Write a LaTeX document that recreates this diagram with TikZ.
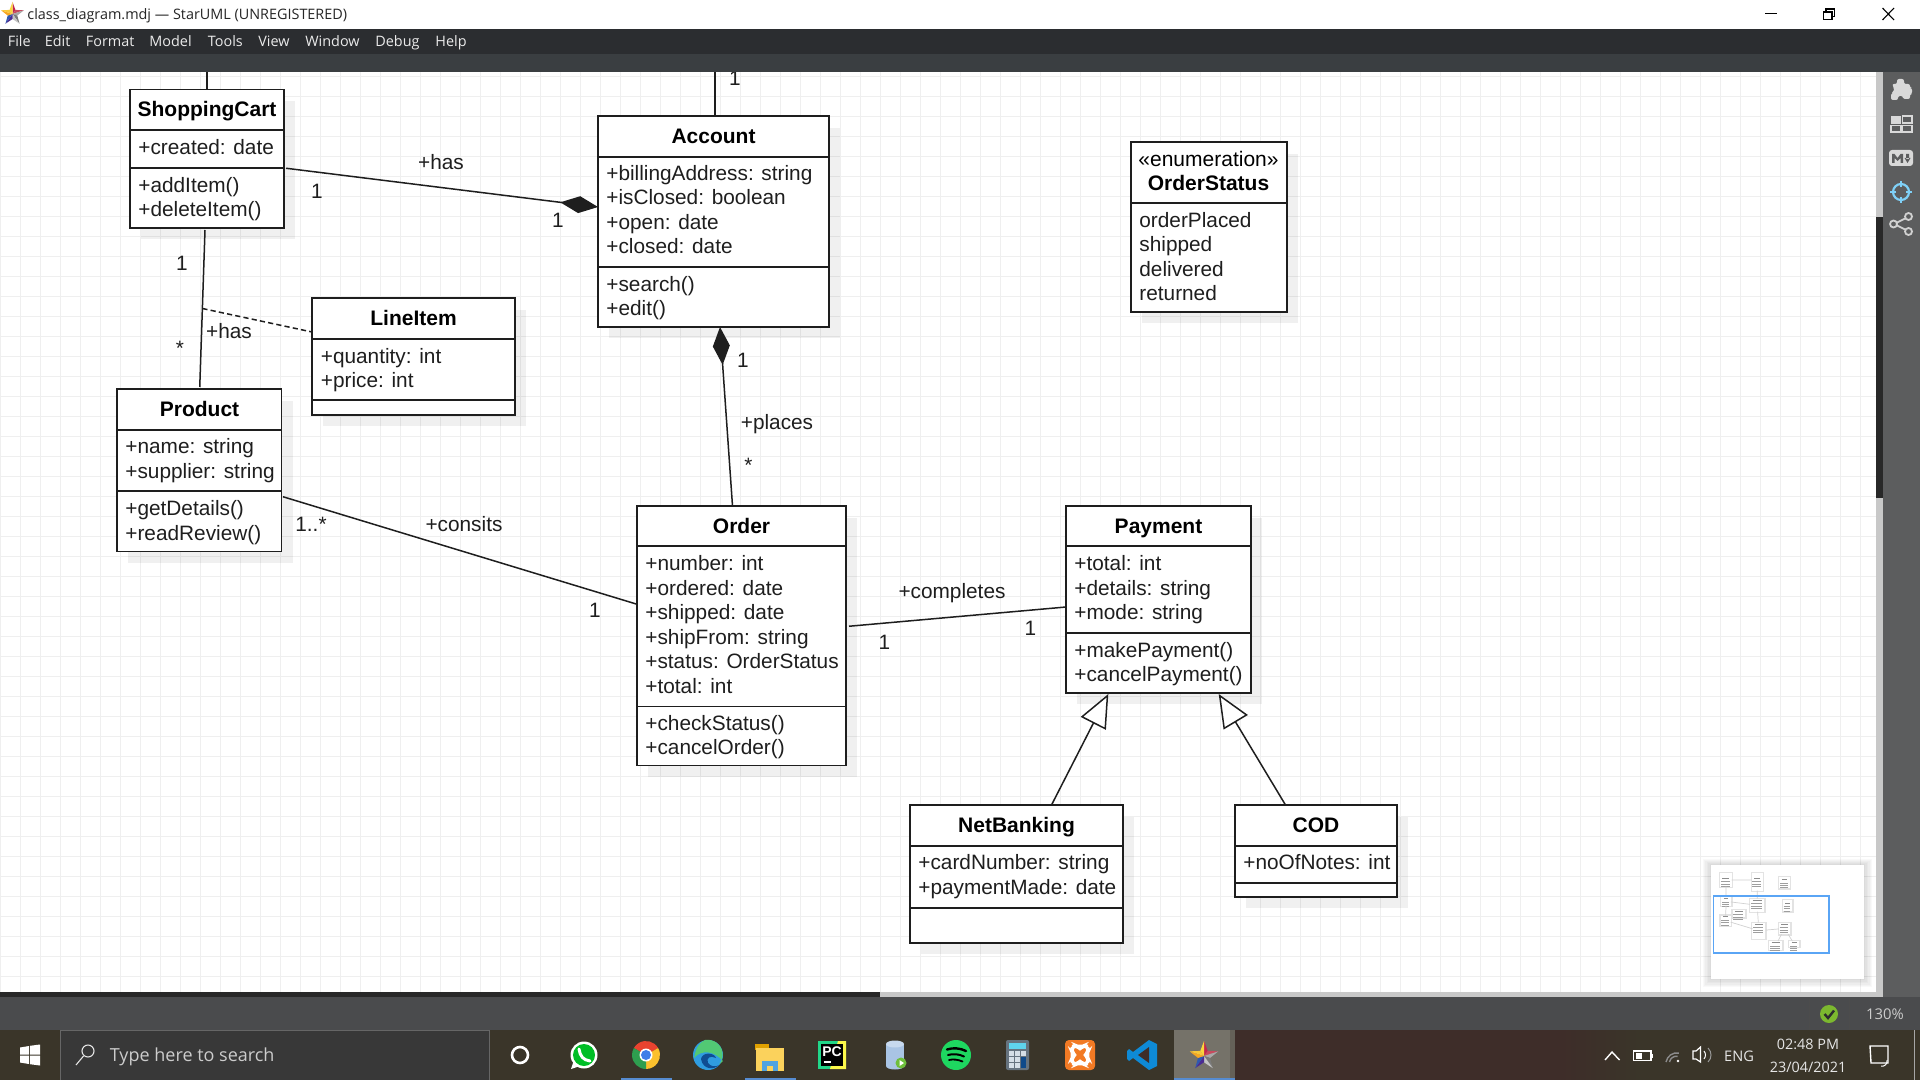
\documentclass[tikz,border=0pt]{standalone}
\usepackage{fontspec}
\setmainfont{Liberation Sans}
\newfontfamily\uifont{Open Sans}
\usetikzlibrary{arrows.meta,calc}
\definecolor{gridc}{HTML}{EFEFEF}
\definecolor{ink}{HTML}{1E1E1E}
\definecolor{menuc}{HTML}{2B2D30}
\definecolor{toolc}{HTML}{3A3E41}
\definecolor{statc}{HTML}{4A4B4D}
\definecolor{panelc}{HTML}{5C5D5E}
\definecolor{barlight}{HTML}{C8C8C8}
\definecolor{bardark}{HTML}{282828}
\definecolor{taskc}{HTML}{3A3529}
\definecolor{taskr}{HTML}{3E2D29}
\definecolor{trayt}{HTML}{E6E6E6}
\definecolor{crosshair}{HTML}{7FD0F7}
\definecolor{okgreen}{HTML}{7CB82F}
\definecolor{viewblue}{HTML}{5AA5F5}
\newcommand\dc[1]{\definecolor{c#1}{HTML}{#1}}
\dc{E8432F}\dc{FBC02D}\dc{2E9E4F}\dc{3F7EE8}\dc{2F9DE0}\dc{52C974}\dc{0F4E93}\dc{E0A100}\dc{FBD25C}\dc{4FA3E0}\dc{21D789}\dc{FCF84A}\dc{A9C4E4}\dc{C7D9EE}\dc{6EBE3C}\dc{1ED760}\dc{66737F}\dc{5FD4EE}\dc{D5DEE6}\dc{0F4A8A}\dc{F27A24}\dc{0E8AD6}
\dc{C0264F}\dc{C84A5E}\dc{A8A8A8}\dc{7A7A7A}\dc{C4C4C4}\dc{4B2C92}\dc{2F58B0}\dc{F6A623}\dc{F8C83A}\dc{FBD63C}
\tikzset{
  classbox/.style={draw=ink,fill=white,line width=.8pt,anchor=north west,inner sep=0pt,outer sep=0pt},
  classline/.style={draw=ink,line width=.8pt},
  ttl/.style={font=\fontsize{10.5}{12.25}\selectfont\bfseries,text=black,inner sep=0pt,align=center,execute at begin node=\strut},
  cmp/.style={font=\fontsize{10.4}{12.25}\selectfont,text=ink,inner sep=0pt,anchor=north west,align=left,execute at begin node=\strut},
  lab/.style={font=\fontsize{10.4}{12.25}\selectfont,text=ink,inner sep=0pt,execute at begin node=\strut},
  assoc/.style={draw=ink,line width=.75pt},
  comp/.style={assoc,-{Diamond[length=19pt,width=8.5pt]}},
  gener/.style={assoc,-{Triangle[open,length=16.5pt,width=14pt,fill=white]}},
  menu/.style={font=\uifont\fontsize{7.2}{9}\selectfont,text=white!92!black,inner sep=0pt,anchor=base west},
  tray/.style={font=\uifont\fontsize{7.2}{9}\selectfont,text=trayt,inner sep=0pt},
}
\newcommand\umlbox[7]{%
  \fill[black,fill opacity=.06] ({#2+11},{#3+12}) rectangle ({#4+11},{#5+11});
  \node[classbox,minimum width={(#4-#2)*0.5pt},minimum height={(#5-#3)*0.5pt}] (#1) at (#2,#3) {};
  \draw[classline] (#2,#6) -- (#4,#6);
  \ifx&#7&\else\draw[classline] (#2,#7) -- (#4,#7);\fi
}
\newcommand\stari[3]{%
  \begin{scope}[shift={(#1,#2)}]
  \foreach \angA/\radA/\angB/\radB/\kol in {-90/1/-54/.42/cC0264F,-54/.42/-18/1/cC84A5E,-18/1/18/.42/cA8A8A8,18/.42/54/1/c7A7A7A,54/1/90/.42/cC4C4C4,90/.42/126/1/c4B2C92,126/1/162/.42/c2F58B0,162/.42/198/1/cF6A623,198/1/234/.42/cF8C83A,234/.42/270/1/cFBD63C}{
    \fill[fill=\kol] (0,0) -- (\angA:{\radA*#3}) -- (\angB:{\radB*#3}) -- cycle;
  }
  \end{scope}}
\begin{document}
\begin{tikzpicture}[x=0.5pt,y=-0.5pt]
\useasboundingbox (0,0) rectangle (1920,1080);
\fill[white] (0,0) rectangle (1920,1080);
% grid
\foreach \gx in {0,...,94} {\draw[gridc,line width=.55pt] ({0.7+\gx*20},72) -- ({0.7+\gx*20},992);}
\foreach \gy in {0,...,45} {\draw[gridc,line width=.55pt] (0,{76.7+\gy*20}) -- (1876,{76.7+\gy*20});}
% classes
\umlbox{cart}{130}{89.5}{284}{228}{130}{168}
\umlbox{acc}{598}{116}{829}{327}{157}{267}
\umlbox{stat}{1131}{142}{1287}{312}{203}{}
\umlbox{line}{312}{298}{515}{415}{339}{400}
\umlbox{prod}{117}{389}{281.5}{551.5}{430}{491}
\umlbox{ord}{637}{506}{846}{765.5}{546}{706.5}
\umlbox{pay}{1066}{506}{1251}{693}{546}{633}
\umlbox{net}{910}{805}{1123}{943}{846}{908}
\umlbox{cod}{1235}{805}{1397}{897}{846}{883}
% class text
\node[ttl] (cartT) at (207,112) {ShoppingCart};
\node[cmp] (cartA) at (138,136.5) {+created: date};
\node[cmp] (cartO) at (138,177) {+addItem()\\+deleteItem()};
\node[ttl] (accT) at (713.5,138.5) {Account};
\node[cmp] (accA) at (606,164.7) {+billingAddress: string\\+isClosed: boolean\\+open: date\\+closed: date};
\node[cmp] (accO) at (606,276) {+search()\\+edit()};
\node[ttl] (statT) at (1208.5,174.5) {\mdseries «enumeration»\\OrderStatus};
\node[cmp] (statA) at (1139,212) {orderPlaced\\shipped\\delivered\\returned};
\node[ttl] (lineT) at (413.5,320.5) {LineItem};
\node[cmp] (lineA) at (320.5,348) {+quantity: int\\+price: int};
\node[ttl] (prodT) at (199.5,411.5) {Product};
\node[cmp] (prodA) at (125,438.5) {+name: string\\+supplier: string};
\node[cmp] (prodO) at (125,500.5) {+getDetails()\\+readReview()};
\node[ttl] (ordT) at (741.5,528.5) {Order};
\node[cmp] (ordA) at (645,555.5) {+number: int\\+ordered: date\\+shipped: date\\+shipFrom: string\\+status: OrderStatus\\+total: int};
\node[cmp] (ordO) at (645,715) {+checkStatus()\\+cancelOrder()};
\node[ttl] (payT) at (1158.5,528.5) {Payment};
\node[cmp] (payA) at (1074,555.5) {+total: int\\+details: string\\+mode: string};
\node[cmp] (payO) at (1074,642) {+makePayment()\\+cancelPayment()};
\node[ttl] (netT) at (1016.5,827.5) {NetBanking};
\node[cmp] (netA) at (918,854.5) {+cardNumber: string\\+paymentMade: date};
\node[ttl] (codT) at (1316,827.5) {COD};
\node[cmp] (codA) at (1243,851.5) {+noOfNotes: int};
% connectors
\coordinate (cartTop) at (207,60);
\coordinate (accTop) at (715,60);
\draw[assoc] (cartTop) -- (cart.north);
\draw[assoc] (accTop) -- ($(acc.north)+(1.5,0)$);
\draw[comp] ($(cart.east)+(2,9.5)$) -- ($(acc.west)+(0,-14.5)$);
\draw[comp] ($(ord.north)+(-9,0)$) -- ($(acc.south)+(6.5,0)$);
\draw[assoc] ($(cart.south)+(-2,2)$) -- coordinate[pos=.5] (mid) ($(prod.north)+(.5,-2)$);
\draw[assoc,dash pattern=on 2.6pt off 1.6pt] (mid) -- ($(line.west)+(0,-24.5)$);
\draw[assoc] ($(prod.east)+(1.5,26.5)$) -- ($(ord.west)+(0,-31.5)$);
\draw[assoc] ($(ord.east)+(3,-9.5)$) -- ($(pay.west)+(0,7.5)$);
\draw[gener] ($(net.north)+(35,0)$) -- ($(pay.south)+(-50.2,1)$);
\draw[gener] ($(cod.north)+(-30.5,0)$) -- ($(pay.south)+(60.2,1)$);
% labels
\node[lab] (l1) at (735,80.5) {1};
\node[lab] (l2) at (441,164.5) {+has};
\node[lab] (l3) at (317,193.5) {1};
\node[lab] (l4) at (558,222.5) {1};
\node[lab] (l5) at (182,265.5) {1};
\node[lab] (l6) at (180,350.5) {*};
\node[lab] (l7) at (229,333.5) {+has};
\node[lab] (l8) at (743,362.5) {1};
\node[lab] (l9) at (777,424.5) {+places};
\node[lab] (l10) at (748.5,467.5) {*};
\node[lab] (l11) at (311,526.5) {1..*};
\node[lab] (l12) at (464,526.5) {+consits};
\node[lab] (l13) at (595,612.5) {1};
\node[lab] (l14) at (952,593.5) {+completes};
\node[lab] (l15) at (884.5,644.5) {1};
\node[lab] (l16) at (1030.5,630.5) {1};
% minimap
\foreach \i in {1,...,6} {\fill[black,fill opacity=.025] ({1711-\i*1.4},{865-\i*1}) rectangle ({1864+\i*1.4},{979+\i*1.4});}
\fill[white] (1711,865) rectangle (1864,979);
\begin{scope}[shift={(1713.3,891.6)},scale=.0615]
\foreach \xa/\ya/\xb/\yb/\dv in {109/-297/299/-80/-200,624/-297/803/-15/-200,1073/-232/1242/-54/-180,130/90/284/228/130,598/116/829/327/157,1131/142/1287/312/203,312/298/515/415/339,117/389/282/552/430,637/506/846/765/546,1066/506/1251/693/546,910/805/1123/943/846,1235/805/1397/897/846}{
  \fill[black!11] ({\xa-18},{\ya-18}) rectangle ({\xb+28},{\yb+28});
  \fill[white] (\xa,\ya) rectangle (\xb,\yb);
  \draw[black!45,line width=.35pt] ({\xa+40},{\dv-20}) -- ({\xb-40},{\dv-20});
  \foreach \r in {1,2,3}{\draw[black!38,line width=.3pt] ({\xa+12},{\dv+\r*38}) -- ({\xb-35},{\dv+\r*38});}
}
\draw[black!18,line width=.35pt] (207,-80) -- (207,89) (713,-15) -- (713,116) (299,-190) -- (624,-190) (284,168) -- (598,207) (207,228) -- (200,389) (283,497) -- (637,604) (732,506) -- (720,327) (849,626) -- (1066,607) (1052,805) -- (1108,694) (1285,805) -- (1218,694);
\end{scope}
\draw[draw=viewblue,line width=.8pt] (1713.3,896) rectangle (1828.7,952.7);
% title bar and toolbars
\fill[white] (0,0) rectangle (1920,29);
\stari{12.5}{14}{12}
\node[font=\uifont\fontsize{7.2}{9}\selectfont,text=black!85,inner sep=0pt,anchor=base west] (title) at (27,20) {class\_diagram.mdj — StarUML (UNREGISTERED)};
\draw[black,line width=.6pt] (1765,13.5) -- (1777,13.5);
\draw[black,line width=.55pt] (1823.5,12) rectangle (1832,19.5) (1826,12) -- (1826,9) -- (1834.5,9) -- (1834.5,16.5) -- (1832,16.5);
\draw[black,line width=.55pt] (1882.5,8) -- (1894,20) (1894,8) -- (1882.5,20);
\fill[menuc] (0,29) rectangle (1920,54);
\fill[toolc] (0,54) rectangle (1920,72);
\foreach \mx/\mt/\mn in {7.5/File/mA,44.5/Edit/mB,85.5/Format/mC,149/Model/mD,207.5/Tools/mE,258/View/mF,305/Window/mG,375/Debug/mH,435/Help/mI}{
  \node[menu] (\mn) at (\mx,47) {\mt};
}
% scrollbars & panel
\fill[barlight] (1876,72) rectangle (1883,992);
\fill[bardark] (1876,217) rectangle (1883,498);
\fill[panelc] (1883,72) rectangle (1920,997);
\fill[barlight] (0,992) rectangle (1883,997);
\fill[bardark] (0,992) rectangle (880,997);
% panel icons
\begin{scope}[shift={(1901,90)}]
  \fill[black!15,rounded corners=1pt] (-9,-6) -- (-4,-6) -- (-4,-11) -- (3,-11) -- (3,-6) -- (9,-6) -- (9,-2) -- (11,-2) -- (11,4) -- (9,4) -- (9,9) -- (2,9) -- (2,6) -- (-3,6) -- (-3,10) -- (-10,10) -- (-10,3) -- (-7,2) -- (-7,-2) -- cycle;
\end{scope}
\begin{scope}[shift={(1901,124)}]
  \fill[black!15] (-10,-8) rectangle (0,0);
  \draw[black!15,line width=.6pt] (1.5,-8) rectangle (11,-1) (-10,1.5) rectangle (0,8) (1.5,1.5) rectangle (11,8);
\end{scope}
\begin{scope}[shift={(1901,158)}]
  \fill[black!15,rounded corners=1.5pt] (-12,-8) rectangle (12,8);
  \fill[panelc] (-9,5) -- (-9,-4) -- (-6.5,-4) -- (-3.5,0) -- (-.5,-4) -- (2,-4) -- (2,5) -- (-.5,5) -- (-.5,0) -- (-3.5,3) -- (-6.5,0) -- (-6.5,5) -- cycle;
  \fill[panelc] (5,-4) rectangle (8,1) (3.5,0) -- (9.5,0) -- (6.5,5) -- cycle;
\end{scope}
\begin{scope}[shift={(1901,192)}]
  \draw[crosshair,line width=1.1pt] (0,0) circle (8);
  \draw[crosshair,line width=1.1pt] (0,-11) -- (0,-5) (0,5) -- (0,11) (-11,0) -- (-5,0) (5,0) -- (11,0);
\end{scope}
\begin{scope}[shift={(1901,224)}]
  \draw[black!18,line width=.9pt] (-7,0) -- (7,-7) (-7,0) -- (7,7);
  \draw[black!18,fill=panelc,line width=.9pt] (-7.5,0) circle (3.5) (7.5,-7.5) circle (3.5) (7.5,7.5) circle (3.5);
\end{scope}
% status bar
\fill[statc] (0,997) rectangle (1920,1030);
\draw[black!70,line width=.4pt] (1809,999) -- (1809,1030) (1849,999) -- (1849,1030);
\fill[okgreen] (1829,1014) circle (9);
\draw[statc!60!black,line width=1.2pt] (1824.5,1014) -- (1828,1018) -- (1834,1010.5);
\node[tray,font=\uifont\fontsize{7.4}{9}\selectfont,text=black!20] (zoomv) at (1885,1014) {130\%};
% task bar
\fill[taskc] (0,1030) rectangle (1920,1080);
\fill[taskr] (1235,1030) rectangle (1560,1080);
\fill[left color=taskr,right color=taskc] (1560,1030) rectangle (1640,1080);
\fill[white!30!taskc] (1174,1030) rectangle (1230,1080);
\fill[white!22!taskc] (1230,1030) rectangle (1235,1080);
% start
\fill[white] (20,1047.5) -- (29,1046) -- (29,1054.5) -- (20,1054.5) -- cycle (30,1045.8) -- (40,1044.5) -- (40,1054.5) -- (30,1054.5) -- cycle (20,1055.5) -- (29,1055.5) -- (29,1064) -- (20,1062.5) -- cycle (30,1055.5) -- (40,1055.5) -- (40,1065.5) -- (30,1064.2) -- cycle;
% search box
\fill[black!78,draw=black!60] (60.5,1030.5) rectangle (489,1080);
\draw[white!90!black,line width=.55pt] (88,1051) circle (6);
\draw[white!90!black,line width=.55pt] (83.5,1056) -- (76,1065);
\node[font=\uifont\fontsize{9}{10}\selectfont,text=black!20,inner sep=0pt,anchor=base west] (search) at (109.5,1061.5) {Type here to search};
% cortana
\draw[white,line width=1.3pt] (520,1055) circle (8);
% whatsapp
\fill[white] (584,1055) circle (13.5);
\fill[white] (571,1069) -- (574,1060) -- (580,1066) -- cycle;
\fill[green!70!black!85!cyan] (584,1055) circle (11);
\draw[white,line width=1.5pt,line cap=round] (579,1049) .. controls (580,1056) and (583,1060) .. (590,1061);
% chrome
\begin{scope}[shift={(646,1055)}]
  \fill[cE8432F] (0,0) -- (-30:14) arc (-30:-150:14) -- cycle;
  \fill[cFBC02D] (0,0) -- (-30:14) arc (-30:90:14) -- cycle;
  \fill[c2E9E4F] (0,0) -- (90:14) arc (90:210:14) -- cycle;
  \fill[white] (0,0) circle (6.5);
  \fill[c3F7EE8] (0,0) circle (5);
\end{scope}
\fill[cyan!50!blue!70!white] (621,1077.5) rectangle (672,1080);
% edge
\begin{scope}[shift={(708,1055)}]
  \fill[c2F9DE0] (0,0) circle (15);
  \fill[c52C974] (-3,-15) arc (-100:40:15) -- (15,6) .. controls (6,-4) and (-6,-6) .. (-14,3) .. controls (-12,-8) and (-8,-13) .. (-3,-15) -- cycle;
  \fill[c0F4E93] (-7,4) .. controls (-6,-3) and (6,-3) .. (8,3) .. controls (2,0) and (-2,3) .. (0,8) .. controls (3,12) and (8,12) .. (11,10) .. controls (6,15) and (-5,15) .. (-7,4) -- cycle;
\end{scope}
% folder
\fill[cE0A100] (755,1044) rectangle (769,1050);
\fill[cFBD25C] (756,1048) rectangle (784,1071);
\fill[c4FA3E0] (762,1061) rectangle (778,1071);
\fill[cFBD25C] (767,1066) rectangle (773,1071);
\fill[cyan!50!blue!70!white] (745,1077.5) rectangle (796,1080);
% pycharm
\fill[c21D789] (818,1041) rectangle (846,1069);
\fill[cFCF84A] (838,1041) -- (846,1041) -- (846,1069) -- (830,1069) -- cycle;
\fill[black] (821,1044) rectangle (843,1066);
\node[font=\bfseries\fontsize{7}{8}\selectfont,text=white,inner sep=0pt] (pc) at (832,1051.5) {PC};
\fill[white] (824,1061) rectangle (830.5,1062.5);
% db
\fill[cA9C4E4] (886,1044) rectangle (904,1066);
\fill[cC7D9EE] (895,1044) ellipse (9 and 3.5);
\fill[cA9C4E4] (895,1066) ellipse (9 and 3.5);
\fill[c6EBE3C] (901,1063) circle (5.5);
\fill[white] (899.5,1060) -- (904,1063) -- (899.5,1066) -- cycle;
% spotify
\fill[c1ED760] (956,1055) circle (15);
\draw[black,line width=1.2pt,line cap=round] (947,1049.5) .. controls (953,1047.5) and (960,1048) .. (966,1051);
\draw[black,line width=1pt,line cap=round] (948,1055) .. controls (953,1053.5) and (959,1054) .. (964,1056.5);
\draw[black,line width=.9pt,line cap=round] (949,1060) .. controls (953,1059) and (958,1059.5) .. (962.5,1061.5);
% calculator
\fill[c66737F,rounded corners=1pt] (1006,1040) rectangle (1029,1070);
\fill[c5FD4EE] (1009,1043) rectangle (1026,1049);
\foreach \cx in {1009,1015,1021}{\foreach \cy in {1051,1057,1063}{\fill[cD5DEE6] (\cx,\cy) rectangle ({\cx+5},{\cy+5});}}
\fill[c0F4A8A] (1021,1057) rectangle (1026,1068);
% xampp
\fill[cF27A24,rounded corners=2pt] (1065,1040) rectangle (1095,1070);
\draw[white,line width=1.3pt,rounded corners=2.5pt] (1072,1046) -- (1077,1046) -- (1080,1049) -- (1083,1046) -- (1088,1046) -- (1088,1052) -- (1085,1055) -- (1088,1058) -- (1088,1064) -- (1083,1064) -- (1080,1061) -- (1077,1064) -- (1072,1064) -- (1072,1058) -- (1075,1055) -- (1072,1052) -- cycle;
% vs code
\fill[c0E8AD6] (1149,1040) -- (1157,1044) -- (1157,1066) -- (1149,1070) -- (1133,1058) -- (1129,1061) -- (1127,1059) -- (1127,1051) -- (1129,1049) -- (1133,1052) -- cycle;
\fill[taskr] (1149,1047) -- (1149,1063) -- (1138,1055) -- cycle;
\stari{1204}{1056}{15}
\fill[cyan!50!blue!70!white] (1174,1077.5) rectangle (1235,1080);
% tray
\draw[white,line width=.7pt] (1605,1060) -- (1612,1052) -- (1619.5,1060);
\draw[white,line width=.7pt] (1633.5,1051) rectangle (1651,1060.5);
\fill[white] (1635.5,1053) rectangle (1642,1058.5);
\fill[white] (1651.5,1053.5) rectangle (1653,1058);
\draw[black!45,line width=.7pt] (1666,1062) arc (-170:-80:11);
\draw[black!45,line width=.7pt] (1669.5,1062) arc (-170:-80:7);
\fill[white] (1678,1061) circle (1.4);
\draw[white,line width=.6pt] (1693,1051) -- (1696,1051) -- (1700.5,1047) -- (1700.5,1062) -- (1696,1059) -- (1693,1059) -- cycle;
\draw[white,line width=.5pt] (1704,1051) .. controls (1706,1054) and (1706,1056) .. (1704,1059);
\draw[black!40,line width=.5pt] (1708,1048) .. controls (1712,1052) and (1712,1058) .. (1708,1062);
\node[tray,font=\uifont\fontsize{7.3}{9}\selectfont] (eng) at (1739,1056) {ENG};
\node[tray] (clock) at (1808,1044) {02:48 PM};
\node[tray] (date) at (1808,1067) {23/04/2021};
\draw[white,line width=.7pt] (1870,1046) -- (1888,1046) -- (1888,1063) -- (1878,1063) -- (1871,1063) -- cycle;
\draw[white,line width=.5pt] (1881,1066) .. controls (1884,1067) and (1888,1064) .. (1887,1060);
\draw[black!35,line width=.5pt] (1914.5,1030) -- (1914.5,1080);
\end{tikzpicture}
\end{document}
